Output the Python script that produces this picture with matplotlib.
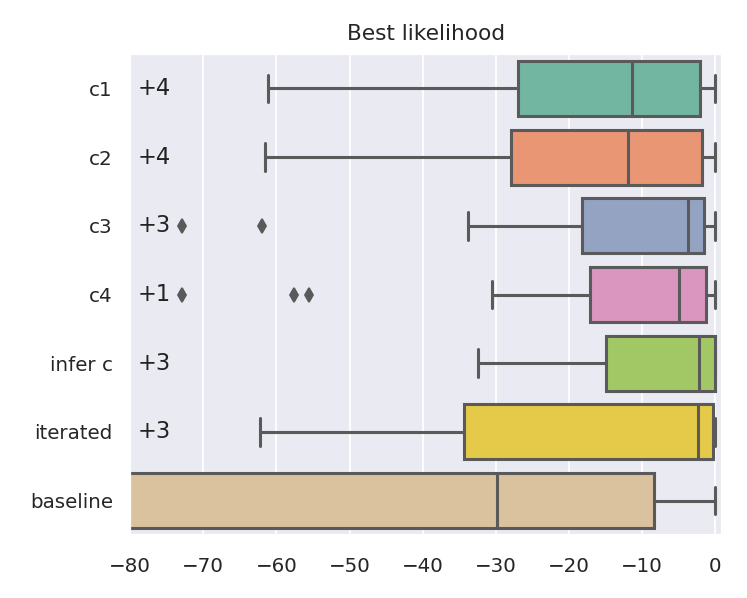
import numpy as np
import matplotlib
matplotlib.use("Agg")
import matplotlib.pyplot as plt
import seaborn as sns

# box summaries (whislo, q1, med, q3, whishi)
labels = ["c1", "c2", "c3", "c4", "infer c", "iterated", "baseline"]
whislo = [-61.1, -61.5, -33.8, -30.5, -32.5, -62.2, -160.0]
q1 = [-27.0, -28.0, -18.2, -17.2, -15.0, -34.3, -100.0]
med = [-11.4, -12.0, -3.8, -5.0, -2.3, -2.4, -29.9]
q3 = [-2.1, -1.9, -1.5, -1.3, 0.0, -0.3, -8.4]
whishi = [0.0, 0.0, 0.0, 0.0, 0.0, 0.0, 0.0]
fliers = [[], [], [-72.9, -61.9], [-72.9, -57.6, -55.5], [], [], []]
# points hidden left of the x limit
n_hidden = [4, 4, 3, 1, 3, 3, None]

sns.set_theme(style="darkgrid")

fig = plt.figure(figsize=(747 / 130, 598 / 130), dpi=130)
ax = fig.add_axes([130 / 747, 1 - 535 / 598, 592 / 747, 481 / 598])

stats = []
for i in range(len(labels)):
    stats.append(dict(whislo=whislo[i], q1=q1[i], med=med[i], q3=q3[i],
                      whishi=whishi[i], fliers=fliers[i], label=labels[i]))

gray = "#5a5a5a"
lw = 1.7
colors = [sns.desaturate(c, 0.75) for c in sns.color_palette("Set2", len(labels))]
pos = np.arange(len(labels))
bp = ax.bxp(stats, positions=pos, vert=False, widths=0.8, patch_artist=True,
            boxprops=dict(edgecolor=gray, linewidth=lw),
            medianprops=dict(color=gray, linewidth=lw),
            whiskerprops=dict(color=gray, linewidth=lw),
            capprops=dict(color=gray, linewidth=lw),
            flierprops=dict(marker="d", markerfacecolor=gray, markeredgecolor=gray,
                            markersize=5.5, linestyle="none"))
for patch, c in zip(bp["boxes"], colors):
    patch.set_facecolor(c)

for i, n in enumerate(n_hidden):
    if n is not None:
        ax.text(-79, pos[i], "+%d" % n, ha="left", va="center", fontsize=12.5,
                color="#222222")

ax.set_xlim(-80, 0.9)
ax.set_ylim(len(labels) - 0.5, -0.5)
ax.set_yticks(pos)
ax.set_yticklabels(labels)
ax.set_xticks(np.arange(-80, 1, 10))
ax.tick_params(axis="x", pad=6)
ax.yaxis.grid(False)
ax.set_title("Best likelihood", pad=8)

fig.savefig("out.png", dpi=130)
